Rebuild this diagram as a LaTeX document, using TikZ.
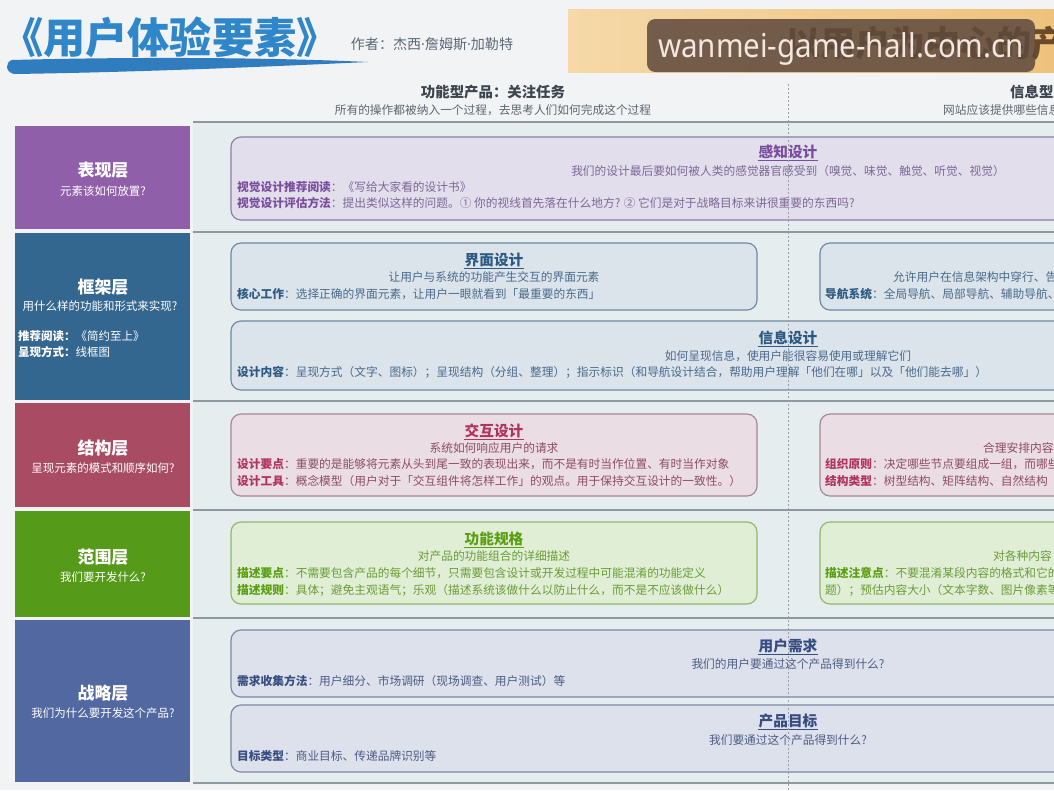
\documentclass[tikz,border=0pt]{standalone}
\usepackage{fontspec}
\setmainfont{Noto Sans CJK SC}
\newfontfamily\wmfont[FakeStretch=0.9]{Noto Sans}
\newfontfamily\latinfont{Noto Sans}
\usepackage{tikz}

\definecolor{pagebg}{HTML}{F2F3F5}
\definecolor{rowbg}{HTML}{E5EDEE}
\definecolor{sepline}{HTML}{8E989F}
\definecolor{dotline}{HTML}{9A9EA6}
\definecolor{titleblue}{HTML}{2F86C8}
\definecolor{brushblue}{HTML}{2F7CBE}
\definecolor{authortxt}{HTML}{5C6878}
\definecolor{bannerL}{HTML}{F5D9A8}
\definecolor{bannerR}{HTML}{EEC27C}
\definecolor{bannertxt}{HTML}{6A4A2A}
\definecolor{wmbrown}{HTML}{5E4A3D}
\definecolor{wmtext}{HTML}{F4E6E0}
\definecolor{hdrtxt}{HTML}{3C444E}
\definecolor{hdrsubtxt}{HTML}{5C6670}
\definecolor{presC}{HTML}{8F5FA9}
\definecolor{frameC}{HTML}{346790}
\definecolor{structC}{HTML}{A84B63}
\definecolor{scopeC}{HTML}{559A18}
\definecolor{stratC}{HTML}{5268A0}
\definecolor{pufill}{HTML}{E2DEEC}
\definecolor{puline}{HTML}{8C7CAA}
\definecolor{pulbl}{HTML}{7A4E9E}
\definecolor{putxt}{HTML}{7C6898}
\definecolor{blfill}{HTML}{DBE3EB}
\definecolor{blline}{HTML}{6E89A5}
\definecolor{bllbl}{HTML}{2D5A82}
\definecolor{bltxt}{HTML}{4A6A8C}
\definecolor{pkfill}{HTML}{EBDDE4}
\definecolor{pkline}{HTML}{A68696}
\definecolor{pklbl}{HTML}{B0345E}
\definecolor{pktxt}{HTML}{8C4C66}
\definecolor{grfill}{HTML}{E0EED6}
\definecolor{grline}{HTML}{8FB86A}
\definecolor{grlbl}{HTML}{5A9E12}
\definecolor{grtxt}{HTML}{6A9C36}
\definecolor{slfill}{HTML}{DCE1EB}
\definecolor{slline}{HTML}{7C88A8}
\definecolor{sllbl}{HTML}{374C80}
\definecolor{sltxt}{HTML}{4E5C84}

\newcommand{\keyterm}[2]{{\bfseries\color{#1}#2}}
\newcommand{\middot}{{\latinfont ·}}

\tikzset{
  lyr/.style={text=white, font=\fontsize{14.5}{16}\selectfont\bfseries},
  lyrsub/.style={text=white, inner sep=0pt, font=\fontsize{9.8}{12}\selectfont},
  card/.style={draw=#1line, fill=#1fill, rounded corners=3mm, line width=0.35mm},
  ttl/.style={text=#1, inner sep=0.8pt, font=\fontsize{12.5}{14}\selectfont\bfseries},
  sub/.style={inner sep=0pt, font=\fontsize{10}{12}\selectfont},
  ln/.style={anchor=west, inner sep=0pt, font=\fontsize{10}{12}\selectfont},
  hdr/.style={text=hdrtxt, inner sep=0pt, font=\fontsize{12.3}{14}\selectfont\bfseries},
  hdrsub/.style={text=hdrsubtxt, inner sep=0pt, font=\fontsize{10}{12}\selectfont}
}

\begin{document}
\begin{tikzpicture}[x=0.3mm,y=-0.3mm]
 \useasboundingbox (0,0) rectangle (1054,790);
 \clip (0,0) rectangle (1054,790);
 \fill[pagebg] (0,0) rectangle (1054,790);

 % title and brush
 \node[text=titleblue, inner sep=0pt, font=\fontsize{36}{40}\selectfont\bfseries] (title) at (170,37) {《用户体验要素》};
 \node[text=authortxt, inner sep=0pt, font=\fontsize{12}{14}\selectfont] (author) at (432,44) {作者：杰西\middot 詹姆斯\middot 加勒特};
 \fill[brushblue] (12,60) .. controls (120,57) and (260,57) .. (368,62)
   .. controls (280,66) and (150,72) .. (14,74) .. controls (5,72) and (5,62) .. cycle;

 % banner
 \shade[left color=bannerL, right color=bannerR] (568,9) rectangle (1054,72);
 \node[anchor=west, text=bannertxt, inner sep=0pt, font=\fontsize{30}{32}\selectfont\bfseries] (slogan) at (785,43) {以用户为中心的产};
 \fill[wmbrown, fill opacity=0.86, rounded corners=2.5mm] (647,19) rectangle (1035,72);
 \node[text=wmtext, inner sep=0pt, font=\wmfont\fontsize{28}{30}\selectfont] (wm) at (841,49) {wanmei-game-hall.com.cn};

 % column heads
 \node[hdr] (func) at (493,92) {功能型产品：关注任务};
 \node[hdrsub] (funcsub) at (493,110) {所有的操作都被纳入一个过程，去思考人们如何完成这个过程};
 \node[hdr, anchor=west] (info) at (1010,92) {信息型产};
 \node[hdrsub, anchor=west] (infosub) at (943,110) {网站应该提供哪些信息};

 % rows
 \fill[rowbg] (193,122) rectangle (1054,783);
 \foreach \y in {122,232,401,510,618,783}
  \draw[sepline, line width=0.5mm] (193,\y) -- (1054,\y);

 % layers
 \fill[presC] (15,126) rectangle (190,229);
 \fill[frameC] (15,233) rectangle (190,400);
 \fill[structC] (15,403) rectangle (190,507);
 \fill[scopeC] (15,511) rectangle (190,617);
 \fill[stratC] (15,620) rectangle (190,782);
 \node[lyr] (pres) at (103,170) {表现层};
 \node[lyrsub] (pressub) at (103,191) {元素该如何放置?};
 \node[lyr] (frame) at (103,287) {框架层};
 \node[lyrsub] (framesub) at (100,306) {用什么样的功能和形式来实现?};
 \node[lyrsub, anchor=west] (frameread) at (18,336) {\textbf{推荐阅读：}《简约至上》};
 \node[lyrsub, anchor=west] (framewire) at (18,352) {\textbf{呈现方式：}线框图};
 \node[lyr] (struct) at (103,448) {结构层};
 \node[lyrsub] (structsub) at (103,468) {呈现元素的模式和顺序如何?};
 \node[lyr] (scope) at (103,557) {范围层};
 \node[lyrsub] (scopesub) at (103,577) {我们要开发什么?};
 \node[lyr] (strat) at (103,693) {战略层};
 \node[lyrsub] (stratsub) at (103,713) {我们为什么要开发这个产品?};

 % surface
 \draw[card=pu] (231,137) rectangle (1400,220);
 \node[ttl=pulbl] (percept) at (788,152) {感知设计};
 \draw[pulbl, line width=0.35mm] (percept.south west) -- (percept.south east);
 \node[sub, text=putxt] (perceptsub) at (788,171) {我们的设计最后要如何被人类的感觉器官感受到（嗅觉、味觉、触觉、听觉、视觉）};
 \node[ln, text=putxt] (vread) at (237,187) {\keyterm{pulbl}{视觉设计推荐阅读}：《写给大家看的设计书》};
 \node[ln, text=putxt] (veval) at (237,203) {\keyterm{pulbl}{视觉设计评估方法}：提出类似这样的问题。① 你的视线首先落在什么地方? ② 它们是对于战略目标来讲很重要的东西吗?};

 % skeleton
 \draw[card=bl] (231,243) rectangle (757,310);
 \node[ttl=bllbl] (ui) at (494,260) {界面设计};
 \draw[bllbl, line width=0.35mm] (ui.south west) -- (ui.south east);
 \node[sub, text=bltxt] (uisub) at (494,277) {让用户与系统的功能产生交互的界面元素};
 \node[ln, text=bltxt] (uicore) at (237,294) {\keyterm{bllbl}{核心工作}：选择正确的界面元素，让用户一眼就看到「最重要的东西」};
 \draw[card=bl] (820,243) rectangle (1400,310);
 \node[sub, text=bltxt, anchor=west] (navsub) at (893,277) {允许用户在信息架构中穿行、告};
 \node[ln, text=bltxt] (navsys) at (825,294) {\keyterm{bllbl}{导航系统}：全局导航、局部导航、辅助导航、};
 \draw[card=bl] (231,321) rectangle (1400,390);
 \node[ttl=bllbl] (infod) at (788,338) {信息设计};
 \draw[bllbl, line width=0.35mm] (infod.south west) -- (infod.south east);
 \node[sub, text=bltxt] (infodsub) at (788,356) {如何呈现信息，使用户能很容易使用或理解它们};
 \node[ln, text=bltxt] (infodcont) at (237,372) {\keyterm{bllbl}{设计内容}：呈现方式（文字、图标）；呈现结构（分组、整理）；指示标识（和导航设计结合，帮助用户理解「他们在哪」以及「他们能去哪」）};

 % structure
 \draw[card=pk] (231,414) rectangle (757,496);
 \node[ttl=pklbl] (ixd) at (494,431) {交互设计};
 \draw[pklbl, line width=0.35mm] (ixd.south west) -- (ixd.south east);
 \node[sub, text=pktxt] (ixdsub) at (494,448) {系统如何响应用户的请求};
 \node[ln, text=pktxt] (ixdkey) at (237,464) {\keyterm{pklbl}{设计要点}：重要的是能够将元素从头到尾一致的表现出来，而不是有时当作位置、有时当作对象};
 \node[ln, text=pktxt] (ixdtool) at (237,481) {\keyterm{pklbl}{设计工具}：概念模型（用户对于「交互组件将怎样工作」的观点。用于保持交互设计的一致性。）};
 \draw[card=pk] (820,414) rectangle (1400,496);
 \node[sub, text=pktxt, anchor=west] (iasub) at (983,448) {合理安排内容};
 \node[ln, text=pktxt] (iaorg) at (825,464) {\keyterm{pklbl}{组织原则}：决定哪些节点要组成一组，而哪些};
 \node[ln, text=pktxt] (iatype) at (825,481) {\keyterm{pklbl}{结构类型}：树型结构、矩阵结构、自然结构};

 % scope
 \draw[card=gr] (231,522) rectangle (757,604);
 \node[ttl=grlbl] (spec) at (494,539) {功能规格};
 \draw[grlbl, line width=0.35mm] (spec.south west) -- (spec.south east);
 \node[sub, text=grtxt] (specsub) at (494,556) {对产品的功能组合的详细描述};
 \node[ln, text=grtxt] (speckey) at (237,573) {\keyterm{grlbl}{描述要点}：不需要包含产品的每个细节，只需要包含设计或开发过程中可能混淆的功能定义};
 \node[ln, text=grtxt] (specrule) at (237,590) {\keyterm{grlbl}{描述规则}：具体；避免主观语气；乐观（描述系统该做什么以防止什么，而不是不应该做什么）};
 \draw[card=gr] (820,522) rectangle (1400,604);
 \node[sub, text=grtxt, anchor=west] (contsub) at (993,556) {对各种内容};
 \node[ln, text=grtxt] (contnote) at (825,573) {\keyterm{grlbl}{描述注意点}：不要混淆某段内容的格式和它的};
 \node[ln, text=grtxt] (contsize) at (825,590) {题）；预估内容大小（文本字数、图片像素等};

 % strategy
 \draw[card=sl] (231,630) rectangle (1400,697);
 \node[ttl=sllbl] (needs) at (788,646) {用户需求};
 \draw[sllbl, line width=0.35mm] (needs.south west) -- (needs.south east);
 \node[sub, text=sltxt] (needssub) at (788,664) {我们的用户要通过这个产品得到什么?};
 \node[ln, text=sltxt] (needsway) at (237,681) {\keyterm{sllbl}{需求收集方法}：用户细分、市场调研（现场调查、用户测试）等};
 \draw[card=sl] (231,705) rectangle (1400,772);
 \node[ttl=sllbl] (goal) at (788,721) {产品目标};
 \draw[sllbl, line width=0.35mm] (goal.south west) -- (goal.south east);
 \node[sub, text=sltxt] (goalsub) at (788,740) {我们要通过这个产品得到什么?};
 \node[ln, text=sltxt] (goaltype) at (237,756) {\keyterm{sllbl}{目标类型}：商业目标、传递品牌识别等};

 % divider
 \draw[dotline, line width=0.25mm, dash pattern=on 0.6mm off 0.6mm] (788,84) -- (788,790);
\end{tikzpicture}
\end{document}
